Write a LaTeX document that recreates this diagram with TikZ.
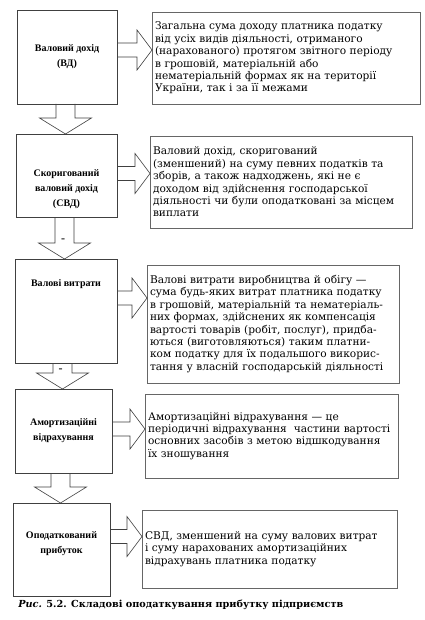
\documentclass[tikz,border=0pt]{standalone}
\usepackage{fontspec}
\setmainfont{DejaVu Serif}
\newfontfamily\termfont{Liberation Serif}
\usetikzlibrary{calc,positioning}
\newcommand{\termlines}[1]{\begin{tabular}{@{}c@{}}#1\end{tabular}}
\tikzset{x=1pt, y=-1pt, % pixel-like units, y runs downward
every node/.style={outer sep=0pt},
term/.style={draw=black!75, line width=0.7pt, align=center, font=\termfont\bfseries\fontsize{10}{15}\selectfont}, % left boxes
defn/.style={draw=black!60, line width=0.6pt, align=left, inner xsep=3pt, font=\fontsize{10.6}{12.4}\selectfont}, % right boxes
minus/.style={inner sep=0pt, font=\bfseries\fontsize{8}{8}\selectfont}, % sign on an arrow
rarrow/.style={draw=black!75, line width=0.6pt, to path={let \p1=(\tikztostart), \p2=(\tikztotarget) in
  (\x1,\y2+7pt) -- (\x2-15pt,\y2+7pt) -- (\x2-15pt,\y2+20pt) -- (\x2,\y2) -- (\x2-15pt,\y2-20pt) -- (\x2-15pt,\y2-7pt) -- (\x1,\y2-7pt)}}, % hollow arrow to the right
darrow/.style={draw=black!75, line width=0.6pt, to path={let \p1=(\tikztostart), \p2=(\tikztotarget) in
  (\x1-9.5pt,\y1) -- (\x1-9.5pt,\y2+16pt) -- (\x1-26pt,\y2+16pt) -- (\x1,\y2) -- (\x1+26pt,\y2+16pt) -- (\x1+9.5pt,\y2+16pt) -- (\x1+9.5pt,\y1)}}, % hollow arrow downward
}
\begin{document}
\begin{tikzpicture}
\fill[white] (0,0) rectangle (424,620);
\useasboundingbox (0,0) rectangle (424,620);

% left column
\node[term, minimum width=100, minimum height=94] (vd) at (67,57) {Валовий дохід\\(ВД)};
\node[term, minimum width=101, minimum height=83, text height=45pt, text depth=13pt] (svd) at (66.5,175.5) {\termlines{Скоригований\\валовий дохід\\(СВД)}};
\node[term, minimum width=102, minimum height=104, text height=7pt, text depth=56pt] (vv) at (66,311) {Валові витрати};
\node[term, minimum width=97, minimum height=84] (av) at (63.5,431) {Амортизаційні\\відрахування};
\node[term, minimum width=97, minimum height=93, text height=30pt, text depth=39pt] (op) at (61.5,549.5) {\termlines{Оподаткований\\прибуток}};

% right column
\node[defn, minimum width=268, minimum height=92, text width=262] (t1) at (286,58) {Загальна сума доходу платника податку\\від усіх видів діяльності, отриманого\\(нарахованого) протягом звітного періоду\\в грошовій, матеріальній або\\нематеріальній формах як на території\\України, так і за її межами};
\node[defn, minimum width=262, minimum height=92, text width=256] (t2) at (281,182) {Валовий дохід, скоригований\\(зменшений) на суму певних податків та\\зборів, а також надходжень, які не є\\доходом від здійснення господарської\\діяльності чи були оподатковані за місцем\\виплати};
\node[defn, minimum width=252, minimum height=118, text width=246] (t3) at (273,324) {Валові витрати виробництва й обігу —\\сума будь-яких витрат платника податку\\в грошовій, матеріальній та нематеріаль-\\них формах, здійснених як компенсація\\вартості товарів (робіт, послуг), придба-\\ються (виготовляються) таким платни-\\ком податку для їх подальшого викорис-\\тання у власній господарській діяльності};
\node[defn, minimum width=253, minimum height=84, text width=247] (t4) at (271.5,436) {Амортизаційні відрахування — це\\періодичні відрахування~ частини вартості\\основних засобів з метою відшкодування\\їх зношування};
\node[defn, minimum width=255, minimum height=78, text width=249] (t5) at (269.5,549) {СВД, зменшений на суму валових витрат\\і суму нарахованих амортизаційних\\відрахувань платника податку};

% arrow heights
\coordinate (a1) at (0,50);
\coordinate (a2) at (0,173.5);
\coordinate (a3) at (0,298);
\coordinate (a4) at (0,429);
\coordinate (a5) at (0,536.5);

\draw[rarrow] (vd.east) to (t1.west |- a1);
\draw[rarrow] (svd.east) to (t2.west |- a2);
\draw[rarrow] (vv.east) to (t3.west |- a3);
\draw[rarrow] (av.east) to (t4.west |- a4);
\draw[rarrow] (op.east) to (t5.west |- a5);

\draw[darrow] ([xshift=-1.5]vd.south) to (svd.north);
\draw[darrow] ([xshift=-2]svd.south) to (vv.north);
\draw[darrow] ([xshift=-3.5]vv.south) to (av.north);
\draw[darrow] ([xshift=-3]av.south) to (op.north);

\node[minus] (m2) at ($(vv.north)+(-3,-19)$) {–};
\node[minus] (m3) at ($(av.north)+(-3,-19)$) {–};

\node[anchor=base west, font=\bfseries\fontsize{9.7}{10}\selectfont] (cap) at (15,607) {\textit{Рис.} 5.2. Складові оподаткування прибутку підприємств};
\end{tikzpicture}
\end{document}
